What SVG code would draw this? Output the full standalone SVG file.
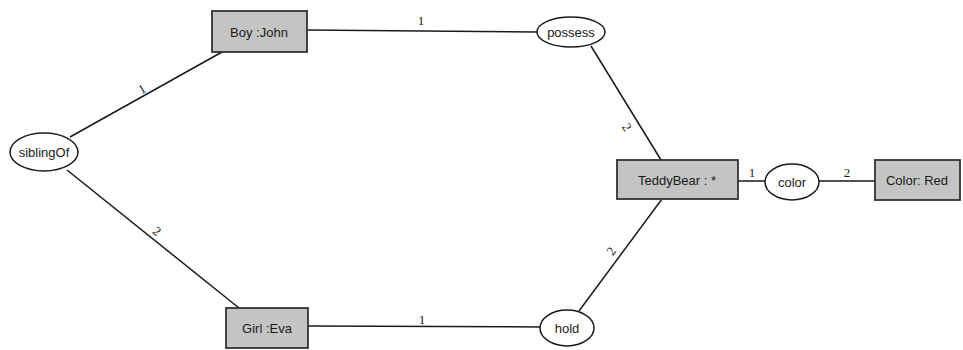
<svg xmlns="http://www.w3.org/2000/svg" width="963" height="350" viewBox="0 0 963 350">
<style>
.box{fill:#c4c4c4;stroke:#333;stroke-width:1.8}
.rel{fill:#ffffff;stroke:#1a1a1a;stroke-width:1.5}
.t{font-family:"Liberation Sans",Arial,sans-serif;font-size:13px;fill:#1a1a1a;text-anchor:middle;dominant-baseline:central}
.e{stroke:#1a1a1a;stroke-width:1.5;fill:none}
.n{font-family:"Liberation Serif","Times New Roman",serif;font-size:13px;fill:#1a1a1a;text-anchor:middle;dominant-baseline:central}
</style>
<rect width="963" height="350" fill="#ffffff"/>
<g id="connectors">
<line class="e" x1="307" y1="30" x2="538" y2="32"/>
<line class="e" x1="70" y1="137" x2="222" y2="52"/>
<line class="e" x1="67" y1="170" x2="239" y2="308"/>
<line class="e" x1="308" y1="326" x2="541" y2="327"/>
<line class="e" x1="591" y1="46" x2="661" y2="160"/>
<line class="e" x1="579" y1="311" x2="662" y2="199"/>
<line class="e" x1="738" y1="181" x2="765" y2="181"/>
<line class="e" x1="819" y1="181" x2="875" y2="181"/>
<text class="n" x="421" y="20">1</text>
<text class="n" x="142" y="89" transform="rotate(-29 142 89)">1</text>
<text class="n" x="157" y="231" transform="rotate(39 157 231)">2</text>
<text class="n" x="627" y="127" transform="rotate(58 627 127)">2</text>
<text class="n" x="611" y="251" transform="rotate(-53 611 251)">2</text>
<text class="n" x="422" y="319">1</text>
<text class="n" x="752" y="172">1</text>
<text class="n" x="847" y="172">2</text>
</g>
<g id="boy"><rect class="box" x="212" y="11" width="95" height="41"/><text class="t" x="259" y="32">Boy :John</text></g>
<g id="possess"><ellipse class="rel" cx="571" cy="32" rx="34" ry="15"/><text class="t" x="571" y="32">possess</text></g>
<g id="siblingOf"><ellipse class="rel" cx="44" cy="152" rx="34" ry="19"/><text class="t" x="44" y="152">siblingOf</text></g>
<g id="girl"><rect class="box" x="226" y="308" width="82" height="40"/><text class="t" x="267" y="328">Girl :Eva</text></g>
<g id="hold"><ellipse class="rel" cx="567" cy="328" rx="27" ry="18"/><text class="t" x="567" y="328">hold</text></g>
<g id="teddybear"><rect class="box" x="617" y="160" width="121" height="39"/><text class="t" x="677" y="180">TeddyBear : *</text></g>
<g id="color"><ellipse class="rel" cx="792" cy="182" rx="27" ry="18"/><text class="t" x="792" y="182">color</text></g>
<g id="colorRed"><rect class="box" x="875" y="160" width="85" height="40"/><text class="t" x="917" y="180">Color: Red</text></g>
</svg>
